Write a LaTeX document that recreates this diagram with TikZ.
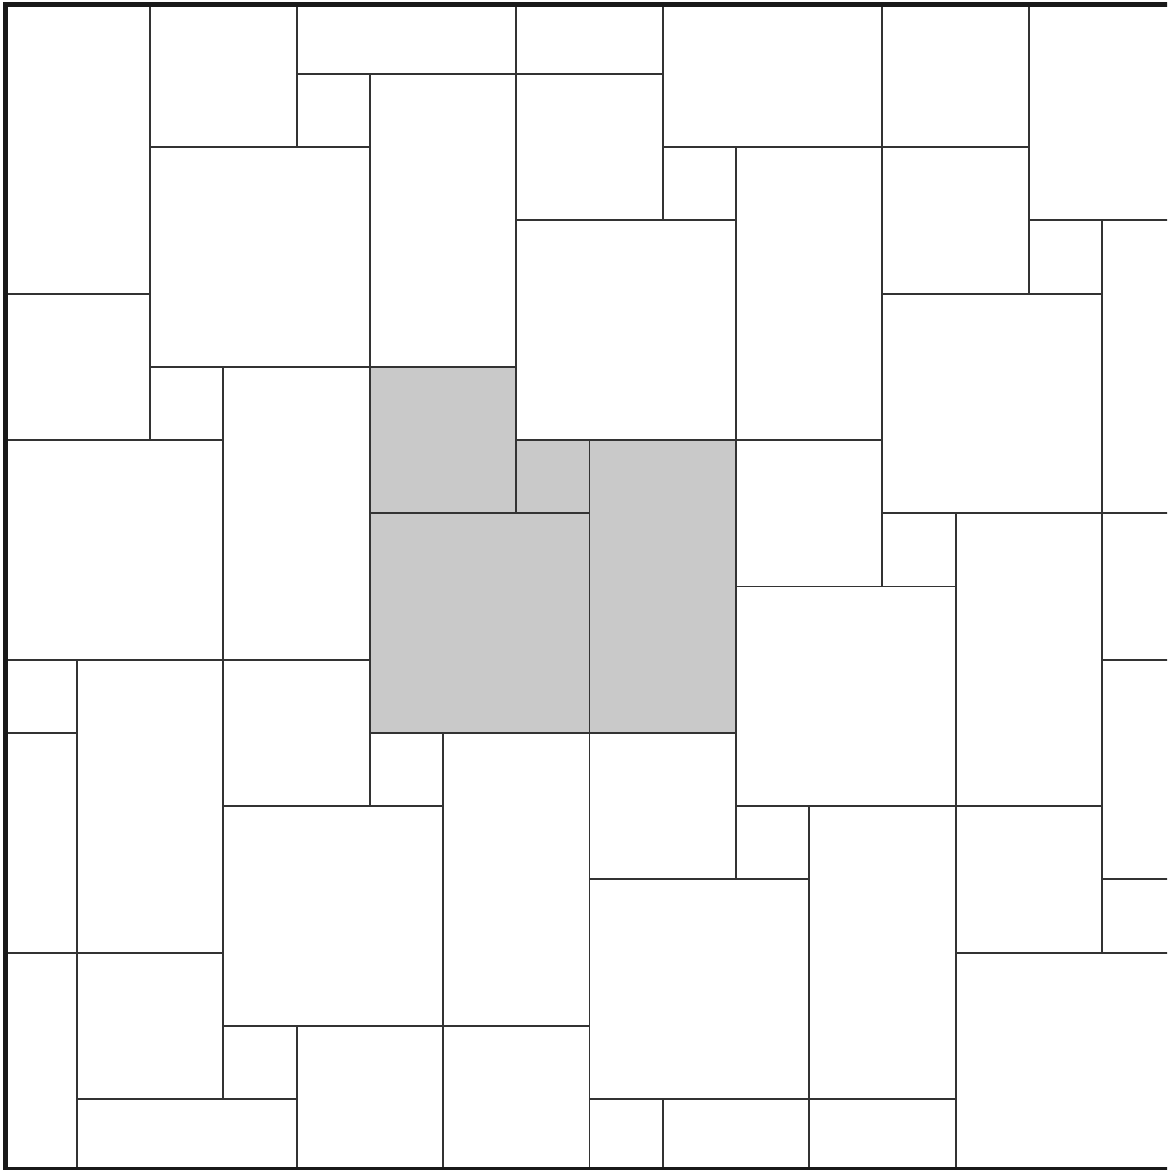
\documentclass[tikz,border=0pt]{standalone}
\usepackage{tikz}
\usetikzlibrary{calc}

\tikzset{
  tile/.style={draw=black!80, line width=0.75pt, line cap=rect},
  frame/.style={draw=black!90, line width=1.9pt},
  shaded/.style={fill=black!21}
}

\begin{document}
\begin{tikzpicture}[yscale=-1]
        % page size
        \useasboundingbox (-0.052,-0.011) rectangle (15.89,15.97);
        \clip (-0.052,-0.011) rectangle (15.89,15.97);
        \begin{scope}
        \clip (0.023,0.05) rectangle (16,15.97);
        % shaded cluster
        \fill[shaded] (5,5) -- (7,5) -- (7,6) -- (10,6) -- (10,10) -- (5,10) -- cycle;
        % vertical joints
        \foreach \x/\ya/\yb in {1/9/16, 2/0/6, 3/5/15, 4/0/2, 4/14/16, 5/1/11, 6/10/16,
                7/0/7, 8/6/16, 9/0/3, 9/15/16, 10/2/12, 11/11/16, 12/0/8,
                13/7/16, 14/0/4, 15/3/13}
          \draw[tile] (\x,\ya) -- (\x,\yb);
        % horizontal joints
        \foreach \y/\xa/\xb in {1/4/9, 2/2/5, 2/9/14, 3/7/10, 3/14/16, 4/0/2, 4/12/15,
                5/2/7, 6/0/3, 6/7/12, 7/5/8, 7/12/16, 8/10/13, 9/0/5, 9/15/16,
                10/0/1, 10/5/10, 11/3/6, 11/10/15, 12/8/11, 12/15/16, 13/0/3,
                13/13/16, 14/3/8, 15/1/4, 15/8/13}
          \draw[tile] (\xa,\y) -- (\xb,\y);
        \end{scope}
        % border
        \draw[frame] (0.023,0.05) rectangle (16.5,15.965);
\end{tikzpicture}
\end{document}
